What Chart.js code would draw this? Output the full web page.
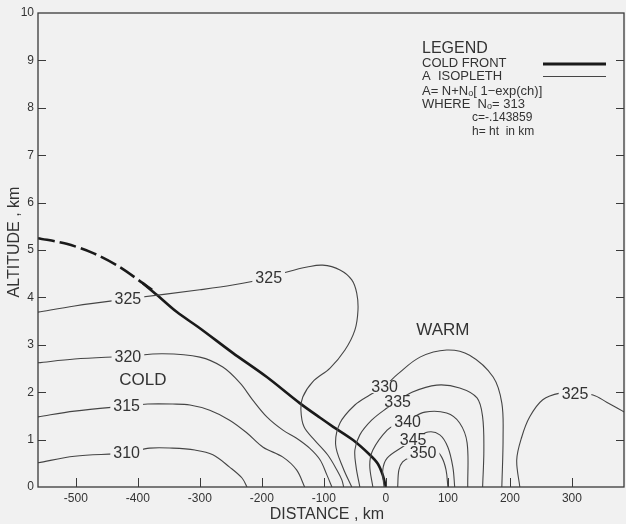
<!DOCTYPE html>
<html><head><meta charset="utf-8">
<script src="https://cdn.jsdelivr.net/npm/chart.js@4/dist/chart.umd.min.js"></script>
<style>html,body{margin:0;padding:0;background:#f1f1f1;}canvas{display:block}</style>
</head><body>
<canvas id="c" width="626" height="524"></canvas>
<script>
// ---- tick labels ----
const xTicks = [-500, -400, -300, -200, -100, 0, 100, 200, 300];
const yTicks = [0, 1, 2, 3, 4, 5, 6, 7, 8, 9, 10];

// ---- cold front (km distance, km altitude) ----
const frontDashed = [[-561,5.25],[-515,5.13],[-473,4.94],[-429,4.64],[-392,4.30],[-377,4.16]];
const frontSolid = [[-392,4.30],[-369,4.05],[-337,3.69],[-300,3.35],[-247,2.83],[-192,2.32],[-139,1.77],[-106,1.46],[-85,1.27],[-53,0.99],[-26,0.68],[-13,0.49],[-5,0.25],[0,0]];

// ---- A isopleths ----
const iso310 = [[-561,0.51],[-502,0.65],[-418,0.72],[-381,0.82],[-344,0.82],[-308,0.78],[-279,0.68],[-252,0.42],[-232,0.19],[-224,0]];
const iso315 = [[-561,1.48],[-502,1.60],[-418,1.71],[-384,1.75],[-344,1.75],[-316,1.73],[-284,1.62],[-252,1.41],[-224,1.14],[-198,0.84],[-166,0.63],[-144,0.36],[-131,0]];
const iso320 = [[-561,2.62],[-502,2.70],[-416,2.76],[-360,2.81],[-300,2.74],[-263,2.53],[-235,2.19],[-215,1.84],[-192,1.48],[-166,1.20],[-144,1.03],[-123,0.82],[-106,0.57],[-95,0.25],[-87,0]];
const iso325 = [[-561,3.69],[-502,3.82],[-416,3.97],[-300,4.16],[-247,4.26],[-190,4.41],[-158,4.54],[-127,4.64],[-102,4.68],[-74,4.58],[-55,4.37],[-47,4.09],[-45,3.73],[-50,3.31],[-66,2.89],[-90,2.51],[-118,2.22],[-134,1.90],[-137,1.62],[-132,1.27],[-115,0.99],[-94,0.68],[-79,0.36],[-71,0.15],[-68,0]];
const iso325R = [[216,0],[211,0.57],[219,1.05],[232,1.48],[253,1.84],[281,1.98],[305,1.98],[334,1.94],[356,1.79],[385,1.58]];
const iso330 = [[-55,0],[-69,0.40],[-81,0.89],[-74,1.35],[-50,1.73],[-26,1.94],[-2,2.13],[19,2.38],[55,2.74],[98,2.89],[135,2.78],[173,2.32],[187,1.77],[189,1.05],[187,0]];
const iso335 = [[-42,0],[-48,0.42],[-50,0.78],[-42,1.10],[-23,1.41],[0,1.65],[19,1.81],[42,2.00],[82,2.15],[119,2.09],[147,1.88],[156,1.48],[158,0.78],[156,0]];
const iso340 = [[-21,0],[-26,0.46],[-21,0.78],[2,1.20],[19,1.33],[35,1.41],[63,1.58],[98,1.56],[119,1.35],[131,0.93],[132,0]];
const iso345 = [[-3,0],[-5,0.36],[2,0.61],[26,0.84],[44,0.99],[68,1.16],[87,1.10],[100,0.84],[108,0.42],[111,0]];
const iso350 = [[19,0],[21,0.36],[27,0.53],[39,0.63],[60,0.72],[79,0.78],[90,0.63],[97,0.36],[100,0]];

// ---- contour labels ----
const labelText = ['325','325','320','315','310','330','335','340','345','350','325'];
const labelX    = [-416, -189, -416, -418, -418, -2, 19, 35, 44, 60, 305];
const labelY    = [3.97, 4.41, 2.76, 1.71, 0.72, 2.11, 1.81, 1.37, 0.99, 0.72, 1.98];
const regionText = ['COLD','WARM'];
const regionX = [-392, 92];
const regionY = [2.26, 3.31];

const BG = '#f1f1f1';
const INK = '#333';
const NARROW = "'Liberation Sans Narrow', 'Liberation Sans', Arial, sans-serif";
const SANS = "'Liberation Sans', Arial, sans-serif";

const toPts = a => a.map(p => ({x: p[0], y: p[1]}));
function iso(arr){
  return {data: toPts(arr), showLine: true, borderColor: '#454545', borderWidth: 1.1, pointRadius: 0, tension: 0.35, fill: false};
}

const deco = {
  id: 'deco',
  beforeDraw(chart){
    const c = chart.ctx;
    c.save(); c.fillStyle = BG; c.fillRect(0, 0, chart.width, chart.height); c.restore();
  },
  afterDatasetsDraw(chart){
    const c = chart.ctx, a = chart.chartArea, xs = chart.scales.x, ys = chart.scales.y;
    c.save();
    // contour labels with gap behind
    c.font = "16px " + NARROW;
    c.textAlign = 'center'; c.textBaseline = 'middle';
    labelText.forEach((t, i) => {
      const px = xs.getPixelForValue(labelX[i]), py = ys.getPixelForValue(labelY[i]);
      const w = c.measureText(t).width;
      c.fillStyle = BG; c.fillRect(px - w/2 - 3, py - 6, w + 6, 12);
      c.fillStyle = INK; c.fillText(t, px, py + 1);
    });
    c.font = "17px " + SANS;
    regionText.forEach((t, i) => {
      c.fillStyle = INK;
      c.fillText(t, xs.getPixelForValue(regionX[i]), ys.getPixelForValue(regionY[i]));
    });
    // frame
    c.strokeStyle = '#3a3a3a'; c.lineWidth = 1.3;
    c.strokeRect(a.left, a.top, a.right - a.left, a.bottom - a.top);
    // inward ticks
    c.lineWidth = 1;
    xTicks.forEach(v => {
      const px = Math.round(xs.getPixelForValue(v)) + 0.5;
      c.beginPath(); c.moveTo(px, a.bottom); c.lineTo(px, a.bottom - 9); c.stroke();
    });
    yTicks.forEach(v => {
      if (v === 0 || v === 10) return;
      const py = Math.round(ys.getPixelForValue(v)) + 0.5;
      c.beginPath(); c.moveTo(a.left, py); c.lineTo(a.left + 8, py); c.stroke();
      c.beginPath(); c.moveTo(a.right, py); c.lineTo(a.right - 8, py); c.stroke();
    });
    // legend block
    const lx = 422;
    c.fillStyle = INK; c.textAlign = 'left'; c.textBaseline = 'middle';
    c.font = "16px " + NARROW;
    c.fillText('LEGEND', lx, 49);
    c.font = "13px " + NARROW;
    c.fillText('COLD FRONT', lx, 63);
    c.fillText('A  ISOPLETH', lx, 76);
    // formula with subscript
    let x = lx;
    const seg = (t, f, dy) => { c.font = f; c.fillText(t, x, 91 + dy); x += c.measureText(t).width; };
    seg('A= N+N', "13px " + NARROW, 0);
    seg('o', "9px " + NARROW, 3);
    seg('[ 1\u2212exp(ch)]', "13px " + NARROW, 0);
    x = lx;
    const seg2 = (t, f, dy) => { c.font = f; c.fillText(t, x, 104 + dy); x += c.measureText(t).width; };
    seg2('WHERE  N', "13px " + NARROW, 0);
    seg2('o', "9px " + NARROW, 3);
    seg2('= 313', "13px " + NARROW, 0);
    c.font = "12px " + NARROW;
    c.fillText('c=-.143859', 472, 118);
    c.fillText('h= ht  in km', 472, 132);
    c.strokeStyle = '#1a1a1a'; c.lineWidth = 3;
    c.beginPath(); c.moveTo(543, 64); c.lineTo(606, 64); c.stroke();
    c.strokeStyle = '#454545'; c.lineWidth = 1.1;
    c.beginPath(); c.moveTo(543, 76.5); c.lineTo(606, 76.5); c.stroke();
    // axis titles
    c.fillStyle = INK; c.font = "16px " + SANS; c.textAlign = 'center';
    c.fillText('DISTANCE , km', (a.left + a.right) / 2 - 4, 515);
    c.save(); c.translate(15, 242); c.rotate(-Math.PI / 2);
    c.fillText('ALTITUDE , km', 0, 0); c.restore();
    c.restore();
  }
};

new Chart(document.getElementById('c'), {
  type: 'scatter',
  data: {
    datasets: [
      iso(iso310), iso(iso315), iso(iso320), iso(iso325), iso(iso325R),
      iso(iso330), iso(iso335), iso(iso340), iso(iso345), iso(iso350),
      {data: toPts(frontDashed), showLine: true, borderColor: '#1a1a1a', borderWidth: 2.6, borderDash: [17, 5], pointRadius: 0, tension: 0.3},
      {data: toPts(frontSolid), showLine: true, borderColor: '#1a1a1a', borderWidth: 2.6, pointRadius: 0, tension: 0.3}
    ]
  },
  options: {
    responsive: false, animation: false, devicePixelRatio: 1,
    layout: {padding: {top: 13, right: 2, left: 0, bottom: 0}},
    plugins: {legend: {display: false}, tooltip: {enabled: false}},
    scales: {
      x: {
        type: 'linear', min: -561, max: 384,
        afterBuildTicks: s => { s.ticks = xTicks.map(v => ({value: v})); },
        afterFit: s => { s.height = 37; },
        grid: {display: false, drawTicks: false}, border: {display: false},
        ticks: {padding: 4, color: INK, font: {family: SANS, size: 12}, maxRotation: 0, autoSkip: false, callback: v => String(v)}
      },
      y: {
        type: 'linear', min: 0, max: 10,
        afterBuildTicks: s => { s.ticks = yTicks.map(v => ({value: v})); },
        afterFit: s => { s.width = 38; },
        grid: {display: false, drawTicks: false}, border: {display: false},
        ticks: {padding: 4, color: INK, font: {family: SANS, size: 12}, autoSkip: false, callback: v => String(v)}
      }
    }
  },
  plugins: [deco]
});
</script>
</body></html>
